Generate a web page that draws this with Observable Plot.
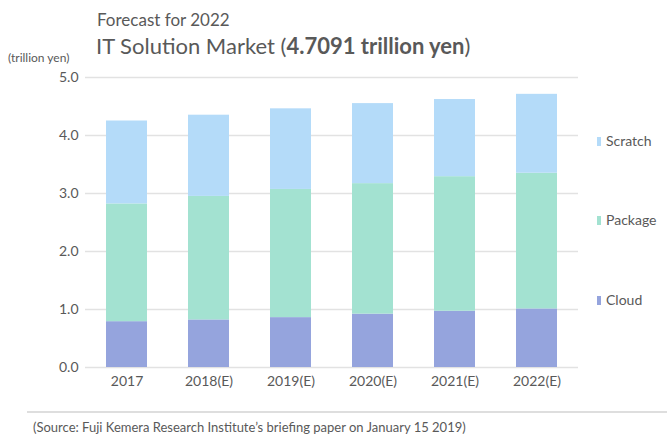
<!DOCTYPE html>
<html>
<head>
<meta charset="utf-8">
<script src="https://cdn.jsdelivr.net/npm/d3@7"></script>
<script src="https://cdn.jsdelivr.net/npm/@observablehq/plot@0.6"></script>
<style>
  html, body { margin: 0; padding: 0; background: #fff; }
  body { width: 667px; height: 436px; position: relative; overflow: hidden; font-family: Lato, "Open Sans", sans-serif; color: #595959; }
  .abs { position: absolute; white-space: nowrap; }
  #sub { left: 97px; top: 9px; font-size: 17px; line-height: 22px; }
  #title { left: 96px; top: 32px; font-size: 22px; line-height: 28px; }
  #unit { left: 8px; top: 50px; font-size: 12px; line-height: 16px; }
  #chart { left: 0; top: 65px; }
  .leg { position: absolute; left: 597px; font-size: 14px; line-height: 18px; display: flex; align-items: center; }
  .leg i { display: inline-block; width: 4px; height: 9px; margin-right: 5px; }
  #sep { left: 27px; top: 411px; width: 640px; height: 2px; background: #dedede; }
  #src { left: 33px; top: 420px; font-size: 13px; line-height: 15px; }
</style>
</head>
<body>
<div class="abs" id="sub">Forecast for 2022</div>
<div class="abs" id="title">IT Solution Market (<b>4.7091 trillion yen</b>)</div>
<div class="abs" id="unit">(trillion yen)</div>
<div class="abs" id="chart"></div>
<div id="legend"></div>
<div class="abs" id="sep"></div>
<div class="abs" id="src">(Source: Fuji Kemera Research Institute’s briefing paper on January 15 2019)</div>
<script>
const years = ["2017", "2018(E)", "2019(E)", "2020(E)", "2021(E)", "2022(E)"];
const seriesNames = ["Cloud", "Package", "Scratch"];
const seriesColors = ["#95a4dd", "#a3e2d1", "#b4dbf9"];
const cloud = [0.79, 0.82, 0.86, 0.92, 0.97, 1.01];
const packageVals = [2.03, 2.13, 2.21, 2.25, 2.32, 2.34];
const scratch = [1.43, 1.40, 1.39, 1.38, 1.33, 1.36];
const yTicks = [0, 1, 2, 3, 4, 5];
const legendOrder = ["Scratch", "Package", "Cloud"];

const seriesValues = [cloud, packageVals, scratch];
const data = [];
years.forEach((yr, i) => {
  seriesNames.forEach((s, j) => data.push({year: yr, series: s, value: seriesValues[j][i]}));
});

const chart = Plot.plot({
  width: 667,
  height: 332,
  marginTop: 12,
  marginBottom: 30,
  marginLeft: 85,
  marginRight: 89,
  style: {fontFamily: "Lato, 'Open Sans', sans-serif", fontSize: "14px", color: "#595959", background: "transparent"},
  x: {domain: years, paddingInner: 0.5, paddingOuter: 0.25, label: null, tickSize: 0, tickPadding: 9},
  y: {domain: [0, 5], ticks: yTicks, tickFormat: d3.format(".1f"), label: null, tickSize: 0, tickPadding: 7},
  color: {domain: seriesNames, range: seriesColors},
  marks: [
    Plot.ruleY(yTicks, {stroke: "#e2e2e2", strokeWidth: 1.5}),
    Plot.barY(data, {x: "year", y: "value", fill: "series", order: seriesNames}),
    Plot.axisX({tickSize: 0, tickPadding: 9, fill: "#595959"}),
    Plot.axisY({ticks: yTicks, tickFormat: d3.format(".1f"), tickSize: 0, tickPadding: 7, fill: "#595959"})
  ]
});
document.getElementById("chart").appendChild(chart);

// Legend
const legendTops = {Scratch: 132, Package: 211, Cloud: 291};
const leg = document.getElementById("legend");
legendOrder.forEach(name => {
  const d = document.createElement("div");
  d.className = "leg";
  d.style.top = legendTops[name] + "px";
  const sw = document.createElement("i");
  sw.style.background = seriesColors[seriesNames.indexOf(name)];
  d.appendChild(sw);
  d.appendChild(document.createTextNode(name));
  leg.appendChild(d);
});
</script>
</body>
</html>
